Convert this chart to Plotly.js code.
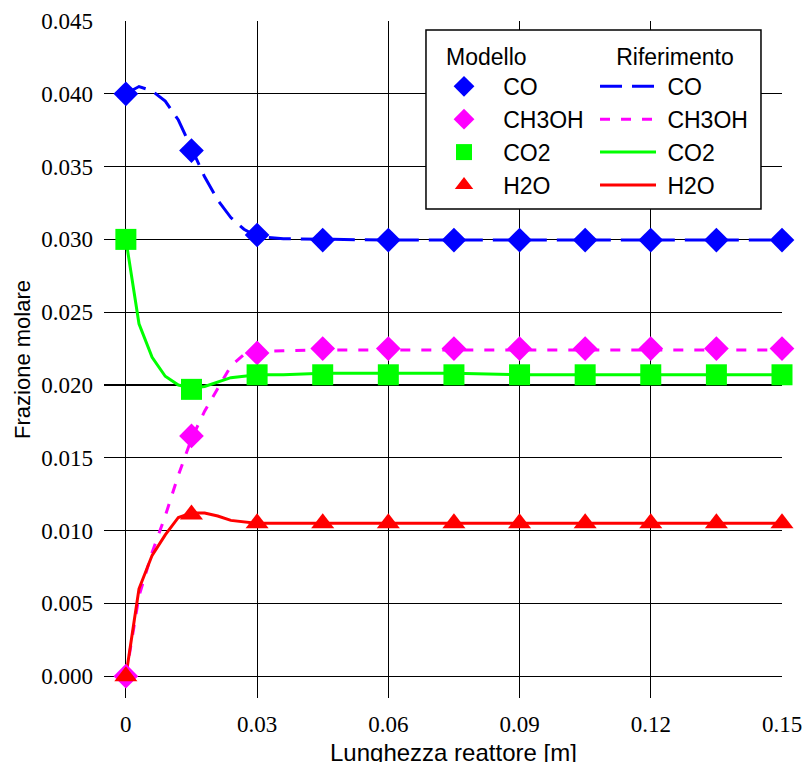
<!DOCTYPE html>
<html>
<head>
<meta charset="utf-8">
<script src="https://cdn.plot.ly/plotly-3.0.1.min.js"></script>
<style>html,body{margin:0;padding:0;background:#fff;}#chart{width:806px;height:762px;}</style>
</head>
<body>
<div id="chart"></div>
<script>
// Model (markers)
var xModel = [0, 0.015, 0.03, 0.045, 0.06, 0.075, 0.09, 0.105, 0.12, 0.135, 0.15];
var coModel = [0.0400, 0.0361, 0.0303, 0.02995, 0.02995, 0.02995, 0.02995, 0.02995, 0.02995, 0.02995, 0.02995];
var ch3ohModel = [0.0000, 0.0165, 0.0222, 0.0225, 0.0225, 0.0225, 0.0225, 0.0225, 0.0225, 0.0225, 0.0225];
var co2Model = [0.0300, 0.0197, 0.0207, 0.0207, 0.0207, 0.0207, 0.0207, 0.0207, 0.0207, 0.0207, 0.0207];
var h2oModel = [0.0000, 0.0111, 0.0105, 0.0105, 0.0105, 0.0105, 0.0105, 0.0105, 0.0105, 0.0105, 0.0105];

// Reference (lines)
var xRef = [0, 0.003, 0.006, 0.009, 0.012, 0.015, 0.018, 0.021, 0.024, 0.027, 0.030, 0.036, 0.045, 0.06, 0.075, 0.09, 0.105, 0.12, 0.135, 0.15];
var coRef = [0.0400, 0.0405, 0.0402, 0.0395, 0.0382, 0.0363, 0.0343, 0.0327, 0.0315, 0.0307, 0.0302, 0.03005, 0.0300, 0.02995, 0.02995, 0.02995, 0.02995, 0.0300, 0.02995, 0.02995];
var ch3ohRef = [0.0000, 0.0055, 0.0085, 0.0110, 0.0138, 0.0163, 0.0182, 0.0198, 0.0213, 0.0221, 0.0223, 0.02235, 0.0224, 0.0224, 0.0224, 0.0224, 0.0224, 0.0224, 0.0224, 0.0224];
var co2Ref = [0.0300, 0.0242, 0.0219, 0.0206, 0.0200, 0.0198, 0.0199, 0.0202, 0.0205, 0.0206, 0.0207, 0.0207, 0.0208, 0.0208, 0.0208, 0.0207, 0.0207, 0.0207, 0.0207, 0.0207];
var h2oRef = [0.0000, 0.0060, 0.0083, 0.0097, 0.0109, 0.0112, 0.0112, 0.0110, 0.0107, 0.0106, 0.0105, 0.0105, 0.0105, 0.0105, 0.0105, 0.0105, 0.0105, 0.0105, 0.0105, 0.0105];

var speciesNames = ['CO', 'CH3OH', 'CO2', 'H2O'];
var xTicks = [0, 0.03, 0.06, 0.09, 0.12, 0.15];
var xTickText = ['0', '0.03', '0.06', '0.09', '0.12', '0.15'];
var yTicks = [0, 0.005, 0.010, 0.015, 0.020, 0.025, 0.030, 0.035, 0.040, 0.045];
var yTickText = ['0.000', '0.005', '0.010', '0.015', '0.020', '0.025', '0.030', '0.035', '0.040', '0.045'];
var xTitle = 'Lunghezza reattore [m]';
var yTitle = 'Frazione molare';

var colors = ['#0000ff', '#ff00ff', '#00ff00', '#ff0000'];
var dashes = ['22px,10px', '10px,11px', 'solid', 'solid'];
var symbols = ['diamond', 'diamond', 'square', 'triangle-up'];
var msizes = [19, 19, 21, 20];
var modelY = [coModel, ch3ohModel, co2Model, h2oModel];
var refY = [coRef, ch3ohRef, co2Ref, h2oRef];
var NB = '\u00a0\u00a0\u00a0';

var traces = [];
for (var i = 0; i < 4; i++) {
  traces.push({
    x: xRef, y: refY[i], mode: 'lines', name: '\u00a0' + speciesNames[i], legend: 'legend2',
    line: {color: colors[i], width: 3, dash: dashes[i]}, hoverinfo: 'skip'
  });
}
for (var j = 0; j < 4; j++) {
  traces.push({
    x: xModel, y: modelY[j], mode: 'markers', name: NB + speciesNames[j], legend: 'legend',
    marker: {color: colors[j], size: msizes[j], symbol: symbols[j], line: {width: 0}},
    cliponaxis: false, hoverinfo: 'skip'
  });
}

var tickFont = {family: '"Liberation Serif", "Times New Roman", serif', size: 23, color: '#000'};
var sansFont = {family: '"Liberation Sans", Arial, sans-serif', size: 23, color: '#000'};

var layout = {
  width: 806, height: 762,
  margin: {l: 104, r: 24, t: 21, b: 64, pad: 0},
  paper_bgcolor: '#fff', plot_bgcolor: '#fff',
  showlegend: true,
  xaxis: {
    range: [-0.005, 0.15], tickmode: 'array', tickvals: xTicks, ticktext: xTickText,
    showgrid: true, gridcolor: '#000', gridwidth: 1.2, zeroline: false, showline: false, ticks: '',
    tickfont: tickFont, ticklabelstandoff: 10
  },
  yaxis: {
    range: [-0.0015, 0.045], tickmode: 'array', tickvals: yTicks, ticktext: yTickText,
    showgrid: true, gridcolor: '#000', gridwidth: 1.2, zeroline: false, showline: false, ticks: '',
    tickfont: tickFont, ticklabelstandoff: 10,
    title: {text: yTitle, font: {family: '"Liberation Sans", Arial, sans-serif', size: 22, color: '#000'}, standoff: 4}
  },
  annotations: [{
    text: xTitle, xref: 'paper', yref: 'paper', x: (454 - 104) / 678, y: -54 / 677,
    xanchor: 'center', yanchor: 'middle', showarrow: false,
    font: {family: '"Liberation Sans", Arial, sans-serif', size: 24, color: '#000'}
  }],
  legend: {
    x: 0.5015, y: 0.9794, xanchor: 'left', yanchor: 'top', bgcolor: 'rgba(0,0,0,0)', borderwidth: 0,
    font: sansFont, title: {text: 'Modello', font: sansFont}, itemwidth: 30
  },
  legend2: {
    x: 0.7242, y: 0.9794, xanchor: 'left', yanchor: 'top', bgcolor: 'rgba(0,0,0,0)', borderwidth: 0,
    font: sansFont, title: {text: '\u00a0\u00a0\u00a0Riferimento', font: sansFont}, itemwidth: 56
  },
  shapes: [{
    type: 'rect', xref: 'paper', yref: 'paper', x0: 0.4749, x1: 0.969, y0: 0.7223, y1: 0.9867,
    fillcolor: '#fff', line: {color: '#000', width: 1.5}, layer: 'above'
  }]
};

Plotly.newPlot('chart', traces, layout, {staticPlot: true});
</script>
</body>
</html>
